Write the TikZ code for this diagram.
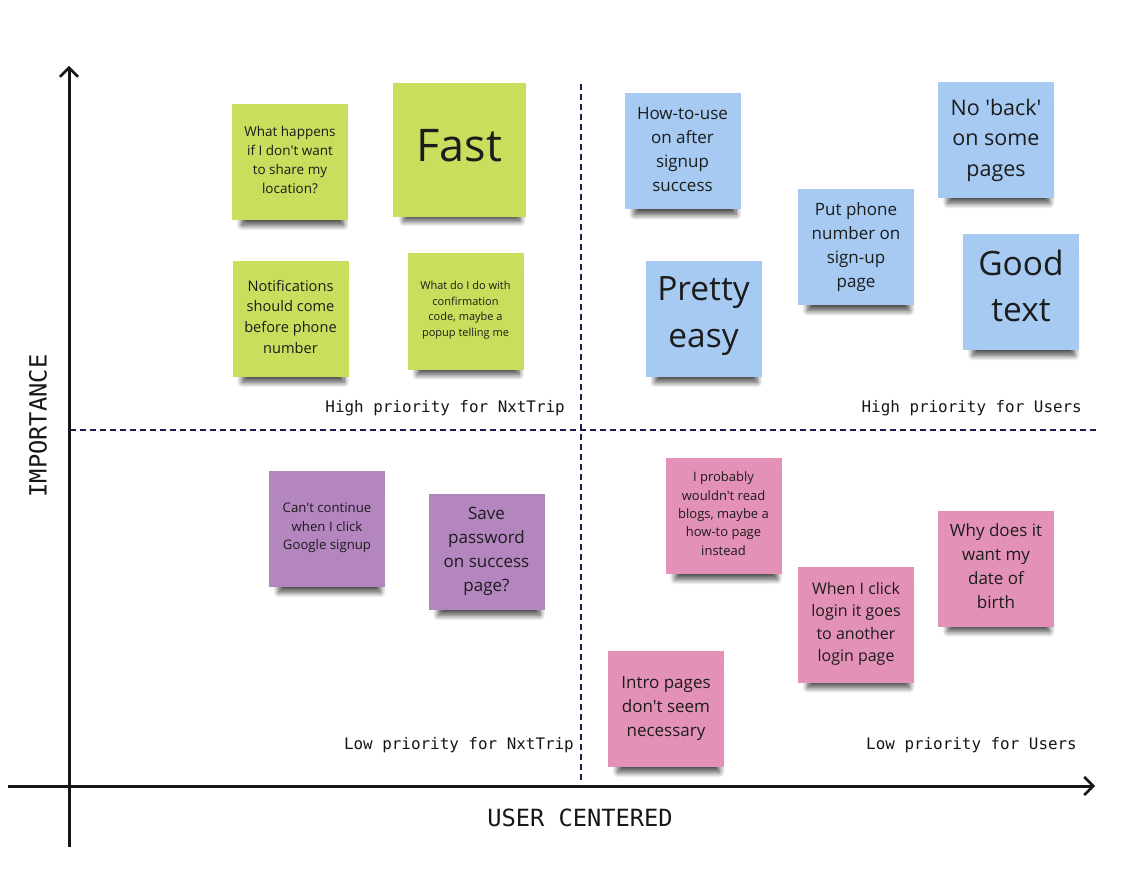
\documentclass[tikz,border=0pt]{standalone}
\usepackage{fontspec}
\usetikzlibrary{arrows.meta,shadows.blur}
\newfontfamily\notefont{Open Sans}
\newfontfamily\monofont{DejaVu Sans Mono}
\definecolor{sgreen}{RGB}{201,222,92}
\definecolor{sblue}{RGB}{166,202,242}
\definecolor{spurple}{RGB}{180,134,191}
\definecolor{spink}{RGB}{228,145,183}
\definecolor{notetext}{RGB}{28,28,28}
\definecolor{axisc}{RGB}{22,22,22}
\definecolor{dashc}{RGB}{28,28,78}
\tikzset{
  note/.style={fill=#1, draw=none, minimum width=116pt, minimum height=116pt,
    align=center, inner sep=0pt, text=notetext, text depth=5pt,
    blur shadow={shadow xshift=3pt, shadow yshift=-14pt, shadow scale=0.88,
      shadow blur radius=6pt, shadow blur steps=10, shadow opacity=70}},
  fs/.style 2 args={font={\notefont\fontsize{#1}{#2}\selectfont}},
  axisline/.style={draw=axisc, line width=3pt, -{Straight Barb[length=9pt,width=18pt,line width=2.6pt]}},
  quad/.style={draw=dashc, line width=1.2pt, dash pattern=on 6pt off 4pt},
  qlabel/.style={font={\monofont\fontsize{15.9}{18}\selectfont}, text=axisc, anchor=base east, inner sep=0pt},
  axlabel/.style={font={\monofont\fontsize{23.7}{26}\selectfont}, text=axisc, inner sep=0pt}
}
\begin{document}
\begin{tikzpicture}[x=1pt,y=-1pt]
\useasboundingbox (0,0) rectangle (1142,882);
% quadrant dividers
\coordinate (hl) at (70,430);
\coordinate (hr) at (1097,430);
\coordinate (vt) at (581,84);
\coordinate (vb) at (581,782);
\draw[quad] (hl) -- (hr);
\draw[quad] (vt) -- (vb);
% axes
\coordinate (ybot) at (69,847);
\coordinate (ytop) at (69,66);
\coordinate (xl) at (8,786);
\coordinate (xr) at (1095,786);
\draw[axisline] (ybot) -- (ytop);
\draw[axisline] (xl) -- (xr);
\node[axlabel] (xlab) at (580,818) {USER CENTERED};
\node[axlabel, rotate=90] (ylab) at (38,426) {IMPORTANCE};
% quadrant labels
\node[qlabel] (hn) at (565,412) {High priority for NxtTrip};
\node[qlabel] (hu) at (1082,412) {High priority for Users};
\node[qlabel] (ln) at (574,749) {Low priority for NxtTrip};
\node[qlabel] (lu) at (1077,749) {Low priority for Users};
% green
\node[note=sgreen, fs={13.5}{19}] (g1) at (290,162) {What happens\\if I don't want\\to share my\\location?};
\node[note=sgreen, fs={45}{50}, minimum width=133pt, minimum height=134pt, text depth=10pt] (g2) at (459.5,150) {Fast};
\node[note=sgreen, fs={14.6}{20.7}] (g3) at (290.5,319) {Notifications\\should come\\before phone\\number};
\node[note=sgreen, fs={11}{15.5}] (g4) at (465.5,311.5) {What do I do with\\confirmation\\code, maybe a\\popup telling me};
% blue
\node[note=sblue, fs={17}{24}] (b1) at (682.5,151.5) {How-to-use\\on after\\signup\\success};
\node[note=sblue, fs={21.5}{30.5}] (b2) at (996,140) {No 'back'\\on some\\pages};
\node[note=sblue, fs={17}{24}] (b3) at (856,247.5) {Put phone\\number on\\sign-up\\page};
\node[note=sblue, fs={33.5}{47}, text depth=13pt] (b4) at (703.5,319) {Pretty\\easy};
\node[note=sblue, fs={33.5}{46}, text depth=13pt] (b5) at (1021,292) {Good\\text};
% purple
\node[note=spurple, fs={13.2}{18.5}] (p1) at (327,529) {Can't continue\\when I click\\Google signup};
\node[note=spurple, fs={17}{24}] (p2) at (486.5,552) {Save\\password\\on success\\page?};
% pink
\node[note=spink, fs={13}{18.3}] (k1) at (723.5,516) {I probably\\wouldn't read\\blogs, maybe a\\how-to page\\instead};
\node[note=spink, fs={17}{24}] (k2) at (996,568.5) {Why does it\\want my\\date of\\birth};
\node[note=spink, fs={16}{22.5}] (k3) at (856,624.5) {When I click\\login it goes\\to another\\login page};
\node[note=spink, fs={17}{24}] (k4) at (666,709) {Intro pages\\don't seem\\necessary};
\end{tikzpicture}
\end{document}
